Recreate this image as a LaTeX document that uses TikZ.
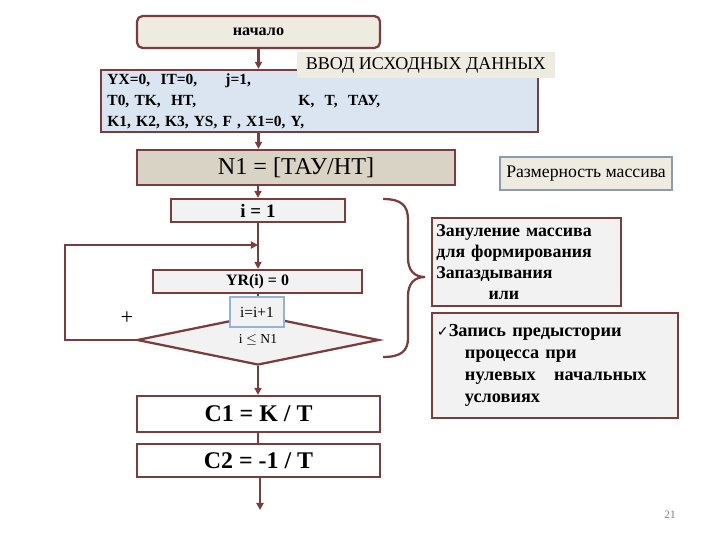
\documentclass[tikz,border=0pt]{standalone}
\usepackage{fontspec}
\setmainfont{Liberation Serif}
\newfontfamily\checkfont{DejaVu Sans}
\usetikzlibrary{arrows.meta,shapes.geometric}
\definecolor{brd}{RGB}{122,60,60}
\definecolor{beige}{RGB}{238,236,225}
\definecolor{paleblue}{RGB}{219,229,241}
\definecolor{tan}{RGB}{216,211,196}
\definecolor{pale}{RGB}{242,242,242}
\definecolor{incborder}{RGB}{149,179,215}
\definecolor{dimborder}{RGB}{140,156,176}

\begin{document}
\begin{tikzpicture}[x=0.025cm, y=-0.025cm,
    box/.style={draw=brd, line width=1.6pt, minimum width=6.075cm, minimum height=0.8cm, align=center, inner sep=2pt},
    note/.style={draw=brd, line width=1.6pt, fill=pale, align=left, inner xsep=0.12cm, font=\fontsize{12.7}{15}\selectfont\bfseries},
    arr/.style={-{Triangle[length=5pt,width=5pt]}, draw=brd, line width=1.6pt},
    ln/.style={draw=brd, line width=1.6pt}
]
\useasboundingbox (0,0) rectangle (720,540);

% main chain
\node[box, rounded corners=4pt, fill=beige, font=\fontsize{11.5}{13}\selectfont\bfseries] (start) at (258.5,32) {начало};
\node[box, fill=paleblue, minimum width=10.925cm, minimum height=1.55cm, text width=10.6cm, align=left, inner xsep=0.16cm, font=\fontsize{11}{15}\selectfont\bfseries] (input) at (319.5,101)
  {\makebox[2.95cm][l]{YX=0,\ \ IT=0,}j=1,\\
   \makebox[4.775cm][l]{T0, TK,\ \ HT,}K,\ \ T,\ \ ТАУ,\\
   K1, K2, K3, YS, F , X1=0, Y,};
\node[fill=beige, minimum width=6.45cm, minimum height=0.65cm, inner sep=1pt, font=\fontsize{12.8}{14}\selectfont] (vvod) at (426,65) {ВВОД ИСХОДНЫХ ДАННЫХ};
\node[box, fill=tan, minimum width=7.95cm, minimum height=0.875cm, font=\fontsize{17.2}{19}\selectfont] (n1) at (296,167.5) {N1 = [ТАУ/НТ]};
\node[box, fill=pale, minimum width=4.35cm, minimum height=0.575cm, font=\fontsize{13.5}{15}\selectfont\bfseries] (i1) at (258,210.5) {i = 1};
\node[box, fill=pale, minimum width=5.225cm, minimum height=0.575cm, font=\fontsize{11.3}{13}\selectfont\bfseries] (yr) at (257.5,281.5) {YR(i) = 0};
\node[diamond, draw=brd, line width=1.6pt, fill=pale, minimum width=6.05cm, minimum height=1.25cm, inner sep=0pt, font=\fontsize{9.7}{12}\selectfont] (cond) at (258,340) {\raisebox{-3pt}{i $\leq$ N1}};
\node[box, fill=white, minimum height=0.9cm, font=\fontsize{17}{20}\selectfont\bfseries] (c1) at (258.5,414) {C1 = K / T};
\node[box, fill=white, minimum height=0.825cm, font=\fontsize{17}{20}\selectfont\bfseries] (c2) at (258.5,460.5) {C2 = -1 / T};
\coordinate (join) at (258,245);
\coordinate (out) at (260,510);

\draw[arr] (start.south) -- (input.north -| start.south);
\draw[arr] (input.south -| start.south) -- (n1.north -| start.south);
\draw[arr] (n1.south -| i1.north) -- (i1.north);
\draw[arr] (i1.south) -- (i1.south |- yr.north);
\draw[ln] (yr.south -| cond.north) -- (cond.north);
\draw[arr] (cond.west) -- ++(-71,0) |- (join);
\draw[arr] (cond.south) -- (cond.south |- c1.north);
\draw[ln] (c1.south -| cond.south) -- (c2.north -| cond.south);
\draw[arr] (c2.south -| out) -- (out);

\node[fill=pale, draw=incborder, line width=1pt, minimum width=1.35cm, minimum height=0.75cm, inner sep=1pt, font=\fontsize{11}{13}\selectfont] (inc) at (257,312) {i=i+1};
\node[font=\fontsize{16}{18}\selectfont] (plus) at (127,318) {+};

% comments on the right
\node[fill=beige, draw=dimborder, line width=0.8pt, minimum width=4.3cm, minimum height=0.825cm, inner sep=1pt, font=\fontsize{12.6}{14}\selectfont] (dim) at (586,173.5) {Размерность массива};
\node[note, minimum width=4.725cm, minimum height=2.2cm, text width=4.5cm] (zero) at (526.5,262)
  {Зануление массива\\ для формирования\\ Запаздывания\\ \hspace*{1.3cm}или};
\node[note, minimum width=6.15cm, minimum height=2.625cm, text width=5.9cm, font=\fontsize{13}{15.5}\selectfont\bfseries] (hist) at (555,365.5)
  {{\checkfont\fontsize{10}{15}\selectfont ✓}Запись предыстории\\
   \hspace*{0.7cm}процесса при\\
   \hspace*{0.7cm}нулевых\ \ \ начальных\\
   \hspace*{0.7cm}условиях};
\draw[ln] (383,199) .. controls (402,199) and (408,206) .. (408,220) -- (408,258)
  .. controls (408,270) and (414,277) .. (425,277)
  .. controls (414,277) and (408,284) .. (408,296) -- (408,338)
  .. controls (408,351) and (401,357) .. (383,357);

\node[text=gray, font=\fontsize{8}{10}\selectfont] (pnum) at (670,515) {21};
\end{tikzpicture}
\end{document}
